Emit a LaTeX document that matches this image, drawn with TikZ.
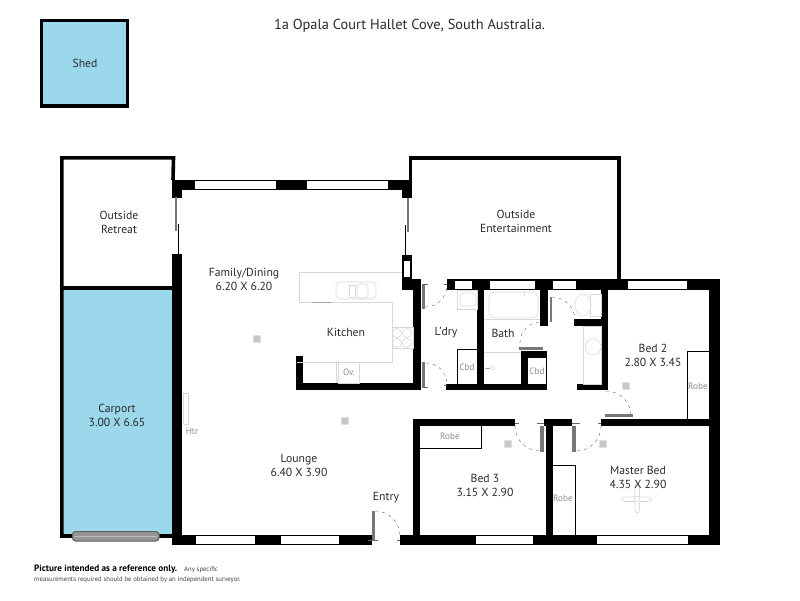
\documentclass[tikz,border=0pt]{standalone}
\usepackage{fontspec}
\setmainfont{PT Sans}
\definecolor{shedblue}{HTML}{9BD8EC}
\definecolor{leafgrey}{HTML}{777777}
\definecolor{fitgrey}{HTML}{D8D8D8}
\definecolor{labelgrey}{HTML}{2A2A2A}
\tikzset{
	wall/.style={fill=black},
	pane/.style={fill=white},
	leaf/.style={fill=leafgrey},
	swing/.style={draw=black!60, densely dashed, dash pattern=on 3pt off 4pt, line width=0.4pt},
	fitting/.style={draw=fitgrey, line width=0.6pt},
	sensor/.style={fill=black!22, draw=black!12, line width=0.5pt},
	cupboard/.style={draw=black, line width=0.9pt},
	room/.style={font=\fontsize{11.7}{14}\selectfont, text=labelgrey, align=center, inner sep=0pt},
	minor/.style={font=\fontsize{9.2}{10}\selectfont, text=black!45, inner sep=0pt}
}
\begin{document}
\begin{tikzpicture}[x=1pt, y=-1pt]

	\useasboundingbox (0,0) rectangle (800,600);

	% blue fills
	\fill [shedblue] (41,20) rectangle (128,106);
	\fill [shedblue] (62,288) rectangle (173,536);

	% outbuilding outlines
	\draw [line width=3.3pt] (41.6,20.2) rectangle (127.4,106);
	\draw [line width=3.6pt] (173,180) -- (173.5,157.8) -- (61.8,157.8) -- (61.8,536) -- (72,536);
	\draw [line width=3.6pt] (62,288) -- (173,288);
	\draw [line width=3.6pt] (159,536) -- (173,536);
	\draw [line width=3.6pt] (410.3,180) -- (410.3,157.8) -- (619.2,157.8) -- (619.2,280);

	% roller door
	\draw [fill=black!42, draw=black!62, line width=1pt, rounded corners=3pt] (72.5,531.5) rectangle (159,541);
	\draw [black!25, line width=0.6pt] (74,536) -- (157,536);

	% solid walls
	\foreach \xa/\ya/\xb/\yb in {172/180/412/190, 172/180/182/197.5, 402/180/412/198,
		172/254/182/545, 172/535/372/545, 400/535/720/545,
		402/255/412/289, 402/279/421/290, 413/279/420.5/390, 296/383/421/390, 296/356/303/390,
		447/279/720/290, 477/279/484/390, 446/384/547/390, 540/279/548/326,
		521/351/528/390, 521/351/547/358, 574/319/608/326, 601/279/608/390, 577/384/608/390,
		709/279/720/545, 413/419/515/426, 544/419/572/426, 601/419/720/426,
		413/419/420/545, 546/419/553/545}
		\fill [wall] (\xa,\ya) rectangle (\xb,\yb);

	% windows
	\foreach \xa/\ya/\xb/\yb in {195/181/276/189, 307/181/388/189, 196/536/255/544, 281/536/339/544,
		476/536/533/544, 597/536/688/544, 403.5/261/410/277,
		455/281/472/289, 490/281/535/289, 553/281/576/289, 628/281/687/289}
		\fill [pane] (\xa,\ya) rectangle (\xb,\yb);

	% sliding doors
	\draw [leafgrey, line width=1.6pt] (176,197) -- (176,231);
	\draw [line width=1pt] (178.7,224) -- (178.7,254);
	\draw [leafgrey, line width=1.6pt] (407.7,198) -- (407.7,232);
	\draw [line width=1pt] (405.5,225) -- (405.5,255);

	% door leaves
	\foreach \xa/\ya/\xb/\yb in {422/284/425/309, 422/362/425/387, 549.5/297/552/322, 519/347/543/350,
		605/414/633/417, 540/426/544/452, 572/426/576/452, 372/511/375/540}
		\fill [leaf] (\xa,\ya) rectangle (\xb,\yb);

	% door swings
	\draw [swing] (425,307) arc [start angle=90, end angle=0, radius=22];
	\draw [swing] (426,363) arc [start angle=-90, end angle=0, radius=21];
	\draw [swing] (552,297) arc [start angle=-90, end angle=0, radius=23];
	\draw [swing] (520,343) arc [start angle=180, end angle=270, radius=21];
	\draw [swing] (606,391) arc [start angle=-90, end angle=0, radius=25];
	\draw [swing] (515,426) arc [start angle=180, end angle=90, radius=25];
	\draw [swing] (601,426) arc [start angle=0, end angle=90, radius=25];
	\draw [swing] (375,511) arc [start angle=-90, end angle=0, radius=25];

	% door ticks
	\draw [black!60, line width=0.5pt] (422,284) -- (428,284) (422,387) -- (428,387) (444,385) -- (447,385) (444,284) -- (447,284)
		(368,540) -- (378,540) (397,540) -- (400,540) (515,423) -- (519,423) (537,423) -- (544,423) (572,423) -- (580,423) (598,423) -- (601,423);

	% cupboards
	\draw [cupboard] (477,349.5) -- (457.5,349.5) -- (457.5,384);
	\draw [cupboard] (546.5,358) -- (546.5,384);
	\draw [cupboard] (709,351.5) -- (687,351.5) -- (687,419);
	\draw [cupboard] (420,448) -- (481,448) -- (481,426);
	\draw [cupboard] (553,465) -- (575,465) -- (575,535);

	% kitchen fittings
	\draw [fitting] (402,272) -- (299,272) -- (299,302) -- (392,302) -- (392,362) -- (297,362);
	\draw [fitting, rounded corners=4pt] (336,282) rectangle (376,299);
	\draw [fitting] (349,285) rectangle (355,297);
	\draw [fitting, rounded corners=3pt] (357,284) rectangle (368,298);
	\draw [black!35, line width=0.6pt] (312,302) -- (331,302);
	\draw [fitting] (392,327.5) rectangle (413,348);
	\foreach \cx/\cy in {397/333, 407/333, 397/343, 407/343}
		\draw [fitting] (\cx,\cy) circle [radius=4.6];
	\draw [fitting] (336,362) -- (336,383) (338,362) rectangle (359.5,383);

	% wet area fittings
	\draw [fitting] (457,290) rectangle (477,309);
	\draw [fitting, rounded corners=3pt] (460,293) rectangle (476,306);
	\draw [fitting, rounded corners=6pt] (489,292) rectangle (538,318);
	\draw [fitting] (524,292) -- (524,296);
	\draw [fitting] (484,319.5) -- (540,319.5) (484,352) -- (521,352);
	\draw [black!35, line width=0.6pt] (485,368) -- (490,368);
	\draw [fitting] (492,368) circle [radius=2];
	\draw [fitting] (583,305) ellipse [x radius=8, y radius=11];
	\draw [fitting] (590,294) rectangle (601,316);
	\draw [fitting] (583.5,326) rectangle (601,384);
	\draw [fitting] (593,347) circle [radius=8];

	% heater
	\draw [fitting] (183,393) rectangle (188,424);

	% ceiling fan
	\draw [fitting, rounded corners=2.5pt] (622,497) rectangle (651,501.5) (635,484) rectangle (639.5,512.5);
	\fill [white] (634.5,496.5) rectangle (640,502);
	\draw [fitting, fill=white] (637,499.2) circle [radius=2.8];

	% light switches
	\foreach \sx/\sy in {257/339, 345/421, 508/444, 603/443.5, 626/385.7}
		\fill [sensor] (\sx-3.6,\sy-3.6) rectangle (\sx+3.6,\sy+3.6);

	% labels
	\node [room, font=\fontsize{14.4}{16}\selectfont] (title) at (409.5,26) {1a Opala Court Hallet Cove, South Australia.};
	\node [room] (shedlabel) at (85,63) {Shed};
	\node [room] (retreat) at (119,222.5) {Outside\\Retreat};
	\node [room] (entertainment) at (516,221.5) {Outside\\Entertainment};
	\node [room] (family) at (244,279.5) {Family/Dining\\6.20 X 6.20};
	\node [room] (kitchen) at (346,332.5) {Kitchen};
	\node [room] (laundry) at (446,332.5) {L'dry};
	\node [room] (bath) at (503,333.5) {Bath};
	\node [room] (bedtwo) at (653,355) {Bed 2\\2.80 X 3.45};
	\node [room] (carport) at (117,415.5) {Carport\\3.00 X 6.65};
	\node [room] (lounge) at (299,465) {Lounge\\6.40 X 3.90};
	\node [room] (entry) at (386,498) {Entry};
	\node [room] (bedthree) at (485,485) {Bed 3\\3.15 X 2.90};
	\node [room] (master) at (638,477) {Master Bed\\4.35 X 2.90};

	\node [minor] (oven) at (349,372) {Ov.};
	\node [minor] (heaterlabel) at (192,431) {Htr};
	\node [minor] (cbdone) at (467,367) {Cbd};
	\node [minor] (cbdtwo) at (537,371) {Cbd};
	\node [minor] (robeone) at (450,436.5) {Robe};
	\node [minor] (robetwo) at (563,498) {Robe};
	\node [minor] (robethree) at (698,386) {Robe};

	% disclaimer
	\node [anchor=base west, inner sep=0pt, font=\fontsize{9.2}{9}\selectfont\bfseries] (notice) at (34,571.5) {Picture intended as a reference only.};
	\node [anchor=base west, inner sep=0pt, font=\fontsize{6.7}{7}\selectfont, text=black!75] (noticeb) at (184,571.5) {Any specific};
	\node [anchor=base west, inner sep=0pt, font=\fontsize{6.7}{7}\selectfont, text=black!75] (noticec) at (34,581.5) {measurements required should be obtained by an independent surveyor.};

\end{tikzpicture}
\end{document}
